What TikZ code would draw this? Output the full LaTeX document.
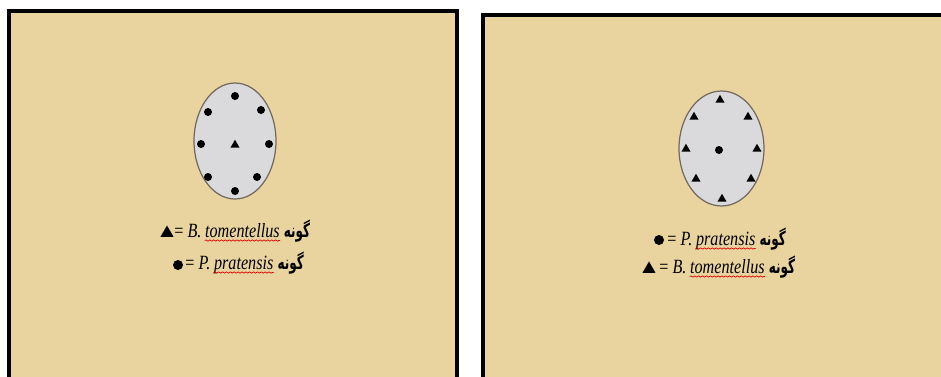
\documentclass[tikz,border=0pt]{standalone}
\usepackage{fontspec}
\setmainfont{Liberation Serif}
\newfontfamily\legendfont[FakeStretch=0.8]{Liberation Serif}
\newfontfamily\persianfont[Script=Arabic, FakeStretch=0.62]{DejaVu Sans}
\TeXXeTstate=1
\usepackage{tikz}
\usetikzlibrary{shapes.geometric, decorations.pathmorphing}

\definecolor{papyrus}{RGB}{233,211,158}
\definecolor{plotgray}{RGB}{218,218,221}
\definecolor{rimgray}{RGB}{115,105,95}

\newcommand{\gune}{{\persianfont\bfseries\fontsize{11}{13}\selectfont\beginR گونه\endR}}

\begin{document}
\begin{tikzpicture}[
        x=0.02cm, y=-0.02cm,
        panel/.style={draw=black, line width=0.08cm, fill=papyrus},
        plot/.style={ellipse, draw=rimgray, line width=0.7pt, fill=plotgray, inner sep=0pt},
        dot/.style={circle, fill=black, inner sep=0pt, minimum size=0.16cm},
        tri/.style={regular polygon, regular polygon sides=3, fill=black, inner sep=0pt, minimum size=0.21cm},
        legend/.style={inner sep=0pt, font=\legendfont\fontsize{11.5}{13}\selectfont},
        wavy/.style={draw=red!85!black, line width=0.4pt, decorate, decoration={snake, amplitude=0.35pt, segment length=2.2pt}}
    ]
    
    \useasboundingbox[fill=white] (0,0) rectangle (941,376);
    \clip (0,0) rectangle (941,376);
    
    % Panels
    \path[panel] (9,11) rectangle (457,400);
    \path[panel] (483,15) rectangle (960,400);
    
    % Left plot: P. pratensis around B. tomentellus
    \node[plot, minimum width=1.64cm, minimum height=2.32cm] (plotA) at (235,141) {};
    \foreach \p [count=\i] in {(235,96),(208,112),(261,110),(201,144),(269,144),(208,177),(257,177),(235,191)}
        \node[dot] (dotA\i) at \p {};
    \node[tri] (triA) at (235,145) {};
    
    % Right plot: B. tomentellus around P. pratensis
    \node[plot, minimum width=1.7cm, minimum height=2.3cm] (plotB) at (721.5,148.5) {};
    \foreach \p [count=\i] in {(720,100),(694,117),(748,117),(686,149),(757,149),(696,179),(751,179),(722,199)}
        \node[tri] (triB\i) at \p {};
    \node[dot] (dotB) at (719,150) {};
    
    % Left legend
    \node[tri, minimum size=0.3cm] (symA1) at (167,233) {};
    \node[legend, anchor=base west] (eqA1) at (174,237) {= \textit{B.}\hspace{0.15em}\null};
    \node[legend, anchor=base west] (spA1) at (eqA1.base east) {\textit{tomentellus}};
    \node[legend, anchor=base west] (guA1) at ([xshift=0.07cm]spA1.base east) {\gune};
    \node[dot, minimum size=0.2cm] (symA2) at (178,265) {};
    \node[legend, anchor=base west] (eqA2) at (185,269) {= \textit{P.}\hspace{0.15em}\null};
    \node[legend, anchor=base west] (spA2) at (eqA2.base east) {\textit{pratensis}};
    \node[legend, anchor=base west] (guA2) at ([xshift=0.07cm]spA2.base east) {\gune};
    
    % Right legend
    \node[dot, minimum size=0.2cm] (symB1) at (659,240) {};
    \node[legend, anchor=base west] (eqB1) at (667,245) {= \textit{P.}\hspace{0.15em}\null};
    \node[legend, anchor=base west] (spB1) at (eqB1.base east) {\textit{pratensis}};
    \node[legend, anchor=base west] (guB1) at ([xshift=0.07cm]spB1.base east) {\gune};
    \node[tri, minimum size=0.3cm] (symB2) at (649,269) {};
    \node[legend, anchor=base west] (eqB2) at (659,273) {= \textit{B.}\hspace{0.15em}\null};
    \node[legend, anchor=base west] (spB2) at (eqB2.base east) {\textit{tomentellus}};
    \node[legend, anchor=base west] (guB2) at ([xshift=0.07cm]spB2.base east) {\gune};
    
    % Spelling underlines
    \foreach \w in {spA1,spA2,spB1,spB2}
        \draw[wavy] ([yshift=-0.07cm]\w.base west) -- ([yshift=-0.07cm]\w.base east);
    
\end{tikzpicture}
\end{document}
